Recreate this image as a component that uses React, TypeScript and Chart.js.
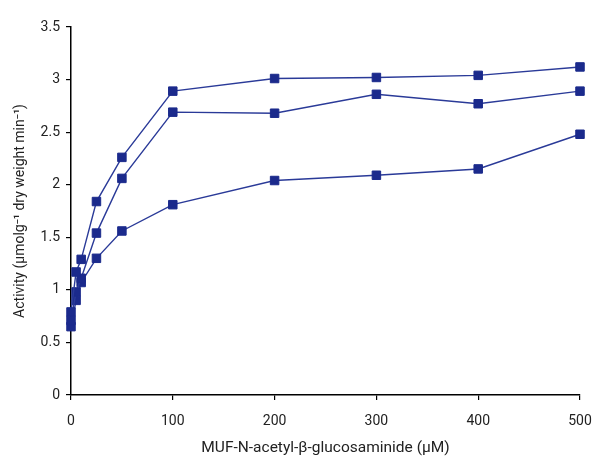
import React, { useEffect, useRef } from "react";
import { Chart, registerables } from "chart.js";

Chart.register(...registerables);

const xValues = [0, 5, 10, 25, 50, 100, 200, 300, 400, 500];
const series1 = [0.79, 1.17, 1.29, 1.84, 2.26, 2.89, 3.01, 3.02, 3.04, 3.12];
const series2 = [0.71, 0.98, 1.11, 1.54, 2.06, 2.69, 2.68, 2.86, 2.77, 2.89];
const series3 = [0.65, 0.9, 1.07, 1.3, 1.56, 1.81, 2.04, 2.09, 2.15, 2.48];

const xTitle = "MUF-N-acetyl-\u03b2-glucosaminide (\u00b5M)";
const yTitle = "Activity (\u00b5molg\u207b\u00b9 dry weight min\u207b\u00b9)";

const FONT = "Roboto";
const MARK = "#1b2a8c";
const LINE = "#2a3a98";

export default function App() {
  const ref = useRef<HTMLCanvasElement>(null);
  useEffect(() => {
    if (!ref.current) return;
    const mk = (vals: number[]) => ({
      data: xValues.map((x, i) => ({ x, y: vals[i] })),
      borderColor: LINE,
      borderWidth: 1.4,
      backgroundColor: MARK,
      pointStyle: "rect" as const,
      pointRadius: 6,
      pointBorderWidth: 1,
      pointBorderColor: MARK,
      pointBackgroundColor: MARK,
      tension: 0,
      clip: false as any,
    });
    const chart = new Chart(ref.current, {
      type: "line",
      data: { datasets: [mk(series1), mk(series2), mk(series3)] },
      options: {
        animation: false,
        responsive: true,
        maintainAspectRatio: false,
        layout: { padding: { left: 8, right: 20, top: 27, bottom: 4 } },
        plugins: { legend: { display: false }, tooltip: { enabled: false } },
        scales: {
          x: {
            type: "linear",
            min: 0,
            max: 500,
            ticks: {
              stepSize: 100,
              color: "#222",
              font: { family: FONT, size: 14 },
              padding: 13,
              maxRotation: 0,
              autoSkip: false,
              callback: (v: any) => String(Number(v)),
            },
            grid: { display: true, drawOnChartArea: false, drawTicks: true, tickLength: 5, color: "#000", lineWidth: 1.2 },
            border: { display: true, color: "#000", width: 1.5 },
            title: { display: true, text: xTitle, color: "#222", font: { family: FONT, size: 15.5 }, padding: { top: 8 } },
            afterFit: (s: any) => { s.height = 66; s.paddingRight = 0; s.paddingLeft = 0; },
          },
          y: {
            type: "linear",
            min: 0,
            max: 3.5,
            ticks: {
              stepSize: 0.5,
              color: "#222",
              font: { family: FONT, size: 14 },
              padding: 6,
              callback: (v: any) => String(Number(v)),
            },
            grid: { display: true, drawOnChartArea: false, drawTicks: true, tickLength: 5, color: "#000", lineWidth: 1.2 },
            border: { display: true, color: "#000", width: 1.5 },
            title: { display: true, text: yTitle, color: "#222", font: { family: FONT, size: 14 }, padding: { bottom: 4 } },
            afterFit: (s: any) => { s.width = 63; s.paddingTop = 0; s.paddingBottom = 0; },
          },
        },
      },
    });
    return () => chart.destroy();
  }, []);
  return (
    <div style={{ position: "absolute", left: 0, top: 0, width: 600, height: 465, background: "#fff" }}>
      <canvas ref={ref} />
    </div>
  );
}
